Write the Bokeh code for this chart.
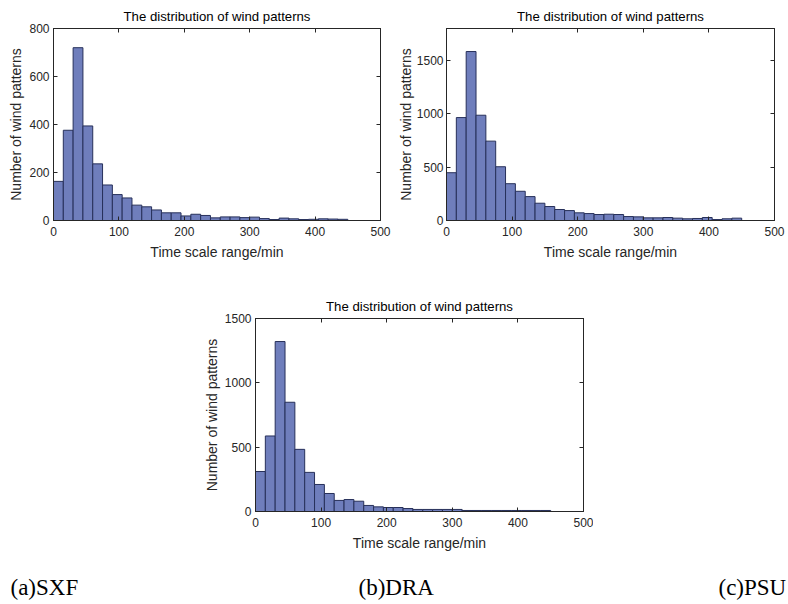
import numpy as np
from bokeh.plotting import figure
from bokeh.layouts import column, row, Spacer
from bokeh.models import Range1d, LinearAxis, FixedTicker, Label
from bokeh.embed import file_html
from bokeh.resources import INLINE

# ---- data (counts per 15-min bin, 0..450 min) ----
BIN_WIDTH = 15
N_BINS = 30
sxf_counts = [163, 376, 720, 394, 236, 148, 108, 94, 64, 57,
              44, 32, 32, 19, 26, 21, 11, 15, 15, 12,
              14, 8, 4, 10, 7, 4, 5, 7, 6, 5]
dra_counts = [448, 965, 1584, 987, 744, 504, 345, 274, 224, 162,
              131, 103, 93, 72, 65, 56, 59, 56, 37, 34,
              25, 25, 28, 22, 16, 19, 28, 9, 16, 22]
psu_counts = [311, 587, 1321, 849, 483, 304, 210, 140, 86, 93,
              80, 47, 36, 31, 31, 23, 16, 16, 16, 16,
              16, 8, 8, 8, 8, 8, 8, 8, 8, 8]
x_ticks = [0, 100, 200, 300, 400, 500]
sxf_yticks = [0, 200, 400, 600, 800]
dra_yticks = [0, 500, 1000, 1500]
psu_yticks = [0, 500, 1000, 1500]
sxf_ymax, dra_ymax, psu_ymax = 800, 1800, 1500
title_text = "The distribution of wind patterns"
x_label = "Time scale range/min"
y_label = "Number of wind patterns"
panel_labels = ["(a)SXF", "(b)DRA", "(c)PSU"]

SANS = "Liberation Sans"
AX = "#262626"
FILL = "#6f7ebc"
EDGE = "#27305a"


def hist_fig(counts, ymax, yticks, width, height, bl, br, bt, bb, ylab_standoff=2, ytick_standoff=4):
    p = figure(width=width, height=height, output_backend="svg", toolbar_location=None,
               x_range=Range1d(0, 500), y_range=Range1d(0, ymax),
               min_border_left=bl, min_border_right=br, min_border_top=bt, min_border_bottom=bb,
               title=title_text)
    edges = np.arange(N_BINS + 1) * BIN_WIDTH
    p.quad(left=edges[:-1], right=edges[1:], bottom=0, top=counts,
           fill_color=FILL, line_color=EDGE, line_width=1)
    p.grid.visible = False
    p.outline_line_color = AX
    p.title.align = "center"
    p.title.text_font = SANS
    p.title.text_font_style = "normal"
    p.title.text_font_size = "13.2px"
    p.title.text_color = "#000000"
    p.title.standoff = 10
    for ax, ticks in ((p.xaxis[0], x_ticks), (p.yaxis[0], yticks)):
        ax.ticker = FixedTicker(ticks=ticks)
        ax.major_tick_in = 4
        ax.major_tick_out = 0
        ax.minor_tick_line_color = None
        ax.axis_line_color = AX
        ax.major_tick_line_color = AX
        ax.major_label_text_font = SANS
        ax.major_label_text_font_size = "12px"
        ax.major_label_text_color = AX
        ax.axis_label_text_font = SANS
        ax.axis_label_text_font_size = "14px"
        ax.axis_label_text_font_style = "normal"
        ax.axis_label_text_color = AX
    p.xaxis[0].axis_label = x_label
    p.yaxis[0].axis_label = y_label
    p.xaxis[0].major_label_standoff = 6
    p.xaxis[0].axis_label_standoff = 5
    p.yaxis[0].major_label_standoff = ytick_standoff
    p.yaxis[0].axis_label_standoff = ylab_standoff
    for side, ticks in (("above", x_ticks), ("right", yticks)):
        a = LinearAxis(ticker=FixedTicker(ticks=ticks), major_tick_in=4, major_tick_out=0,
                       minor_tick_line_color=None, axis_line_color=AX, major_tick_line_color=AX,
                       major_label_overrides={t: "" for t in ticks}, major_label_standoff=0)
        p.add_layout(a, side)
    return p


p1 = hist_fig(sxf_counts, sxf_ymax, sxf_yticks, 394, 288, 53, 14, 28, 68)
p2 = hist_fig(dra_counts, dra_ymax, dra_yticks, 394, 288, 52, 14, 28, 68,
              ylab_standoff=0, ytick_standoff=3)
p3 = hist_fig(psu_counts, psu_ymax, psu_yticks, 403, 272, 65, 10, 30, 49)

lab = figure(width=788, height=44, output_backend="svg", toolbar_location=None,
             min_border=0, x_range=Range1d(0, 1), y_range=Range1d(0, 1))
lab.outline_line_color = None
lab.axis.visible = False
lab.grid.visible = False
for txt, xs in zip(panel_labels, [10, 358, 718]):
    lab.add_layout(Label(x=xs, y=17, x_units="screen", y_units="screen", text=txt,
                         text_font="Liberation Serif", text_font_size="23px",
                         text_color="#000000", text_baseline="alphabetic"))

layout = column(row(p1, p2), row(Spacer(width=190, height=272), p3), lab)
open("out.html", "w").write(file_html(layout, INLINE))
